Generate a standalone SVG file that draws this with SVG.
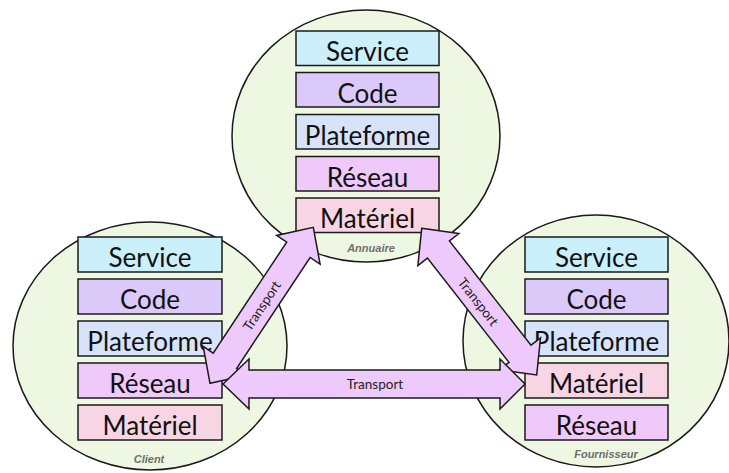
<svg xmlns="http://www.w3.org/2000/svg" width="729" height="473" viewBox="0 0 729 473">
<style>
.bg{fill:#ffffff}
.site{fill:#edf7e1;stroke:#1a1a1a;stroke-width:1.5}
.box{stroke:#1a1a1a;stroke-width:1.5}
.service{fill:#cceffc}
.code{fill:#dbcaf9}
.plat{fill:#d6e3fb}
.res{fill:#eec9fa}
.mat{fill:#f8d5e2}
.lbl{font-family:Lato,"Open Sans","Liberation Sans",sans-serif;font-size:26px;fill:#111;text-anchor:middle}
.name{font-family:"Liberation Sans",Arial,sans-serif;font-size:11px;font-weight:bold;font-style:italic;fill:#6f6f6f;text-anchor:middle}
.arrow{fill:#eec9fb;stroke:#1a1a1a;stroke-width:1.5;stroke-linejoin:miter}
.tl{font-family:Lato,"Open Sans","Liberation Sans",sans-serif;font-size:13.5px;fill:#222;text-anchor:middle}
</style>
<rect class="bg" x="0" y="0" width="729" height="473"/>
<g id="annuaire">
<ellipse class="site" cx="366" cy="136" rx="134" ry="126"/>
<rect class="box service" x="296" y="31" width="143" height="34.5"/>
<text class="lbl" x="367.5" y="61">Service</text>
<rect class="box code" x="296" y="72.5" width="143" height="34.5"/>
<text class="lbl" x="367.5" y="102.5">Code</text>
<rect class="box plat" x="296" y="114.5" width="143" height="34.5"/>
<text class="lbl" x="367.5" y="144.5">Plateforme</text>
<rect class="box res" x="296" y="156.5" width="143" height="34.5"/>
<text class="lbl" x="367.5" y="186.5">Réseau</text>
<rect class="box mat" x="296" y="198" width="143" height="34.5"/>
<text class="lbl" x="367.5" y="228">Matériel</text>
<text class="name" x="371" y="251.5">Annuaire</text>
</g>
<g id="client">
<ellipse class="site" cx="150" cy="346" rx="137" ry="124"/>
<rect class="box service" x="78" y="237" width="144" height="35"/>
<text class="lbl" x="150" y="267">Service</text>
<rect class="box code" x="78" y="279" width="144" height="35"/>
<text class="lbl" x="150" y="309">Code</text>
<rect class="box plat" x="78" y="321" width="144" height="35"/>
<text class="lbl" x="150" y="351">Plateforme</text>
<rect class="box res" x="78" y="363" width="144" height="35"/>
<text class="lbl" x="150" y="393">Réseau</text>
<rect class="box mat" x="78" y="405" width="144" height="35"/>
<text class="lbl" x="150" y="435">Matériel</text>
<text class="name" x="149" y="462.5">Client</text>
</g>
<g id="fournisseur">
<ellipse class="site" cx="596" cy="341" rx="133" ry="126"/>
<rect class="box service" x="525" y="237" width="143" height="35"/>
<text class="lbl" x="596.5" y="267">Service</text>
<rect class="box code" x="525" y="279" width="143" height="35"/>
<text class="lbl" x="596.5" y="309">Code</text>
<rect class="box plat" x="525" y="321" width="143" height="35"/>
<text class="lbl" x="596.5" y="351">Plateforme</text>
<rect class="box mat" x="525" y="363" width="143" height="35"/>
<text class="lbl" x="596.5" y="393">Matériel</text>
<rect class="box res" x="525" y="405" width="143" height="35"/>
<text class="lbl" x="596.5" y="435">Réseau</text>
<text class="name" x="606" y="457.5">Fournisseur</text>
</g>
<g id="connectors">
<polygon class="arrow" points="313.3,227.3 320.1,264.2 310.1,257.5 236.6,368.5 246.6,375.2 210,383.3 203.2,346.4 213.2,353.1 286.7,242.1 276.7,235.4"/>
<polygon class="arrow" points="421.7,228.3 458.9,233.5 449.4,240.9 531,345.2 540.5,337.8 536.7,375 499.5,369.8 509,362.4 427.4,258.1 417.9,265.5"/>
<polygon class="arrow" points="223,384 249,359 249,370 500,370 500,359 525,384 500,409 500,398 249,398 249,409"/>
<text class="tl" transform="translate(262,306) rotate(-56.5)" y="4.5">Transport</text>
<text class="tl" transform="translate(478,302) rotate(51.9)" y="4.5">Transport</text>
<text class="tl" x="375" y="388.5">Transport</text>
</g>
</svg>
